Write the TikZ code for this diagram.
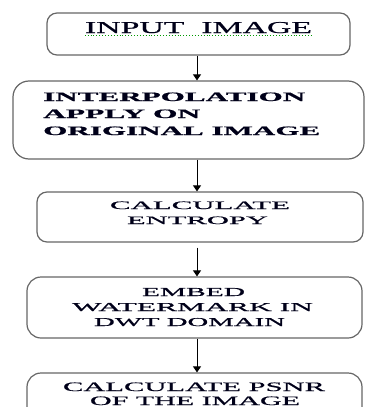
\documentclass[tikz,border=0pt]{standalone}
\usepackage{fontspec}
\setmainfont[FakeBold=0.6]{Liberation Serif}
\usetikzlibrary{arrows.meta}
\newcommand{\fitline}[3]{\resizebox{#1pt}{#2pt}{#3}}
\begin{document}
\begin{tikzpicture}[x=1pt,y=-1pt,
  box/.style={draw=black!60, line width=1.2pt, rounded corners=#1, inner sep=0pt},
  box/.default=10pt,
  lbl/.style={inner sep=0pt, anchor=base, text=black!90!blue},
  lblw/.style={inner sep=0pt, anchor=base west, text=black!90!blue},
  arr/.style={line width=0.9pt, -{Triangle[length=6pt,width=8pt]}}]
\useasboundingbox (0,0) rectangle (366,407);
\node[box, minimum width=303pt, minimum height=42pt] (b1) at (198.5,34) {};
\node[box=16pt, minimum width=351pt, minimum height=78pt] (b2) at (188.5,120) {};
\node[box, minimum width=326pt, minimum height=50pt] (b3) at (200,217) {};
\node[box=14pt, minimum width=335pt, minimum height=61pt] (b4) at (194.5,307.5) {};
\node[box=14pt, minimum width=335pt, minimum height=60pt] (b5) at (194.5,403) {};
% texts
\node[lbl] (t1) at (198.5,33) {\fitline{227}{11}{INPUT\ \ IMAGE}};
\draw[green!60!black, line width=0.9pt, dotted] (t1.base west) ++(0,2.5) -- ++(227,0);
\node[lblw] (t2a) at (43,101) {\fitline{262}{8.5}{\bfseries INTERPOLATION}};
\node[lblw] (t2b) at (43,118) {\fitline{157}{8.5}{\bfseries APPLY ON}};
\node[lblw] (t2c) at (43,135) {\fitline{277}{8.5}{\bfseries ORIGINAL IMAGE}};
\node[lbl] (t3a) at (200,209) {\fitline{180}{7.5}{CALCULATE}};
\node[lbl] (t3b) at (197.5,224) {\fitline{141}{7.5}{ENTROPY}};
\node[lbl] (t4a) at (193.5,296) {\fitline{103}{8}{EMBED}};
\node[lbl] (t4b) at (192.5,311) {\fitline{241}{8}{WATERMARK IN}};
\node[lbl] (t4c) at (189.5,326) {\fitline{191}{8}{DWT DOMAIN}};
\node[lbl] (t5a) at (194,391) {\fitline{262}{8.5}{CALCULATE PSNR}};
\node[lbl] (t5b) at (195,405) {\fitline{210}{8.5}{OF THE IMAGE}};
% arrows
\coordinate (ax) at (197,0);
\draw[arr] (ax |- b1.south) -- (ax |- b2.north);
\draw[arr] (ax |- b2.south) -- (ax |- b3.north);
\draw[arr, shorten <=5pt] (ax |- b3.south) -- (ax |- b4.north);
\draw[arr] (ax |- b4.south) -- (ax |- b5.north);
\end{tikzpicture}
\end{document}
